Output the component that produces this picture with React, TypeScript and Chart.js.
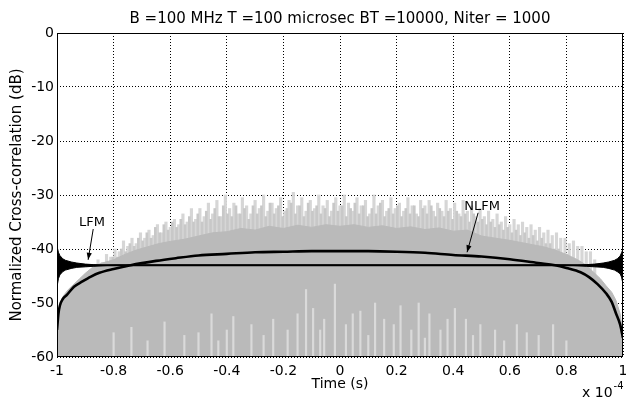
import React, { useEffect, useRef } from "react";
import { Chart, registerables } from "chart.js";

Chart.register(...registerables);

const FONT = "'DejaVu Sans', 'Liberation Sans', sans-serif";

const TITLE = "B =100 MHz T =100 microsec BT =10000, Niter = 1000";
const X_LABEL = "Time (s)";
const Y_LABEL = "Normalized Cross-correlation (dB)";
const X_EXP_BASE = "x 10";
const X_EXP = "-4";
const X_TICKS = [-1, -0.8, -0.6, -0.4, -0.2, 0, 0.2, 0.4, 0.6, 0.8, 1];
const Y_TICKS = [-60, -50, -40, -30, -20, -10, 0];

// NLFM mean cross-correlation curve
const NLFM_X = [-1, -0.995, -0.99, -0.98, -0.965, -0.94, -0.91, -0.88, -0.85, -0.8, -0.74, -0.65, -0.58, -0.5, -0.4, -0.3, -0.2, -0.1, 0, 0.1, 0.2, 0.3, 0.4, 0.5, 0.6, 0.7, 0.76, 0.8, 0.85, 0.88, 0.91, 0.94, 0.96, 0.975, 0.99, 1];
const NLFM_DB = [-55, -52, -50.5, -49.3, -48.5, -47, -46, -45.1, -44.4, -43.7, -43, -42.2, -41.7, -41.2, -40.9, -40.6, -40.5, -40.4, -40.4, -40.4, -40.5, -40.7, -41.1, -41.4, -41.9, -42.6, -43, -43.5, -44.3, -45.2, -46.5, -48.2, -49.8, -51.9, -54, -56.5];

// LFM curve (flat, with ringing envelope at the edges)
const LFM_X = [-1, -0.995, -0.99, -0.98, -0.97, -0.95, -0.93, -0.9, -0.87, -0.84, -0.8, 0, 0.8, 0.84, 0.87, 0.9, 0.93, 0.95, 0.97, 0.98, 0.99, 0.995, 1];
const LFM_DB = [-43, -43, -43, -43, -43, -43, -43, -43, -43, -43, -43, -43, -43, -43, -43, -43, -43, -43, -43, -43, -43, -43, -43];
const LFM_UPPER = [-39.5, -40.6, -41.2, -41.8, -42.1, -42.4, -42.6, -42.8, -42.9, -43, -43, -43, -43, -43, -42.9, -42.8, -42.6, -42.4, -42.1, -41.8, -41.3, -40.7, -40];
const LFM_LOWER = [-47, -45.5, -44.8, -44.2, -43.9, -43.6, -43.4, -43.3, -43.2, -43.1, -43, -43, -43, -43.1, -43.2, -43.3, -43.4, -43.6, -43.9, -44.2, -44.6, -45.2, -46.5];

// Dense part of the gray realizations (upper edge)
const BASE_X = [-1, -0.99, -0.975, -0.96, -0.94, -0.92, -0.9, -0.87, -0.84, -0.8, -0.76, -0.72, -0.68, -0.64, -0.6, -0.55, -0.5, -0.45, -0.4, -0.35, -0.3, -0.25, -0.2, -0.15, -0.1, -0.05, 0, 0.05, 0.1, 0.15, 0.2, 0.25, 0.3, 0.35, 0.4, 0.45, 0.5, 0.55, 0.6, 0.64, 0.68, 0.72, 0.76, 0.8, 0.84, 0.87, 0.9, 0.92, 0.94, 0.96, 0.975, 0.99, 1];
const BASE_DB = [-54, -50, -48.5, -47.5, -46.5, -45.5, -44.5, -43.2, -42.6, -42, -41, -40.2, -39.6, -39, -38.6, -38.2, -37.6, -37, -36.8, -36.2, -36.5, -35.8, -36.2, -35.6, -36, -35.5, -35.8, -35.5, -36, -35.7, -36.2, -35.9, -36.4, -36.1, -36.7, -36.5, -37.6, -38, -38.4, -38.8, -39.2, -39.6, -40.2, -41, -42, -43, -44.5, -45.5, -46.8, -48, -49.5, -52, -56];

// Tallest peaks of the gray realizations (sampled from x = -0.9 every 0.015)
const SPIKE_X0 = -0.9;
const SPIKE_DX = 0.015;
const SPIKE_DB = [
  -45, -44, -43.5, -42, -42.5, -41, -41.5, -40, -40.5, -38.5,
  -39.5, -38, -39, -37, -38, -36.5, -37.5, -35.5, -37, -35,
  -36, -34.5, -35.5, -33.5, -35, -32.5, -34.5, -32.5, -34, -31.5,
  -33.5, -31, -34, -30, -32.5, -31.5, -33.5, -30.5, -32, -33.5,
  -31, -32.5, -30, -33, -31.5, -32.5, -30.5, -33, -31, -29.5,
  -32, -30.5, -33, -31, -32.5, -30, -32, -31, -33, -30.5,
  -32, -30, -31.5, -33, -30.5, -32, -31, -33.5, -30, -32,
  -31, -33, -30.5, -32.5, -31.5, -33, -30.5, -32, -33.5, -31,
  -32, -31, -33, -31.5, -33, -31, -32.5, -31.5, -33.5, -31,
  -33, -32, -34, -32.5, -34, -33, -34.5, -33.5, -35, -34,
  -35.5, -34.5, -35.5, -35, -36, -35.5, -36.5, -36, -37, -36.5,
  -37.5, -37, -38, -38, -39, -38.5, -39.5, -39.5, -40.5, -40.5,
  -42,
];
// Second set of peaks (sampled from x = -0.8925 every 0.015)
const SPIKE2_X0 = -0.8925;
const SPIKE2_DB = [
  -46, -45, -44.5, -43.5, -43, -42.5, -41.5, -41.5, -40, -40.5,
  -39, -39.5, -38, -38.5, -37, -38, -36, -37, -35.5, -36.5,
  -35, -36, -34.5, -35.5, -34, -35, -33.5, -35, -33, -34.5,
  -32.5, -34, -32, -33.5, -34, -32, -33.5, -32.5, -34.5, -32,
  -33.5, -32, -34, -31.5, -33.5, -32, -34, -32.5, -31.5, -33.5,
  -32, -34, -31.5, -33, -32, -33.5, -32.5, -34, -31.5, -33,
  -32, -34, -32.5, -31.5, -33.5, -32, -34, -32.5, -33.5, -31.5,
  -34, -32.5, -33.5, -32, -34, -32.5, -33.5, -32, -34, -32.5,
  -33.5, -32, -34, -32.5, -34, -33, -34.5, -33, -34, -33.5,
  -35, -33.5, -35, -34.5, -35.5, -35, -36, -35.5, -36.5, -36,
  -37, -36.5, -37.5, -37, -38, -37.5, -38.5, -38, -39, -39,
  -40, -40, -41, -41, -42, -42.5, -43, -43.5, -44, -45,
];

// Light gaps at the bottom of the gray realizations
const STREAK_X = [-0.8, -0.737, -0.68, -0.62, -0.55, -0.5, -0.454, -0.43, -0.4, -0.377, -0.313, -0.27, -0.236, -0.185, -0.15, -0.12, -0.095, -0.07, -0.056, -0.018, 0.021, 0.045, 0.072, 0.1, 0.124, 0.156, 0.19, 0.214, 0.252, 0.278, 0.3, 0.316, 0.355, 0.38, 0.406, 0.445, 0.47, 0.496, 0.548, 0.58, 0.625, 0.66, 0.702, 0.753, 0.8];
const STREAK_DB = [-55.5, -54.5, -57, -53.5, -56, -55.5, -52, -57, -55, -52.5, -54, -56, -53, -55, -52, -47.5, -51, -55, -53, -46.5, -54, -52, -51.5, -56, -50, -53, -54, -50.5, -55, -50, -56.5, -52, -55, -53, -51, -53, -56, -54, -55, -57, -54, -55.5, -56, -54, -57];

const Y_MIN = -60;

function pts(xs: number[], ys: number[]) {
  return xs.map((x, i) => ({ x, y: ys[i] }));
}

function arrow(ctx: CanvasRenderingContext2D, x1: number, y1: number, x2: number, y2: number) {
  ctx.beginPath();
  ctx.moveTo(x1, y1);
  ctx.lineTo(x2, y2);
  ctx.stroke();
  const ang = Math.atan2(y2 - y1, x2 - x1);
  const L = 7, W = 2.6;
  ctx.beginPath();
  ctx.moveTo(x2, y2);
  ctx.lineTo(x2 - L * Math.cos(ang) + W * Math.sin(ang), y2 - L * Math.sin(ang) - W * Math.cos(ang));
  ctx.lineTo(x2 - L * Math.cos(ang) - W * Math.sin(ang), y2 - L * Math.sin(ang) + W * Math.cos(ang));
  ctx.closePath();
  ctx.fill();
}

const decor = {
  id: "decor",
  afterDatasetsDraw(chart: any) {
    const { ctx, chartArea: a } = chart;
    ctx.save();
    ctx.strokeStyle = "#000";
    ctx.lineWidth = 1;
    ctx.setLineDash([]);
    ctx.strokeRect(Math.round(a.left) + 0.5, Math.round(a.top) + 0.5, Math.round(a.right - a.left) - 1, Math.round(a.bottom - a.top) - 1);
    ctx.restore();
  },
  afterDraw(chart: any) {
    const { ctx, chartArea: a, scales } = chart;
    const sx = scales.x, sy = scales.y;
    ctx.save();
    ctx.fillStyle = "#000";
    ctx.strokeStyle = "#000";
    // title
    ctx.font = `15px ${FONT}`;
    ctx.textAlign = "center";
    ctx.textBaseline = "alphabetic";
    ctx.fillText(TITLE, (a.left + a.right) / 2, 23);
    // x label
    ctx.font = `14px ${FONT}`;
    ctx.fillText(X_LABEL, (a.left + a.right) / 2, 388);
    // exponent
    ctx.textAlign = "left";
    ctx.font = `14px ${FONT}`;
    ctx.fillText(X_EXP_BASE, 582, 397);
    const w = ctx.measureText(X_EXP_BASE).width;
    ctx.font = `10px ${FONT}`;
    ctx.fillText(X_EXP, 582 + w + 1, 389);
    // y label
    ctx.save();
    ctx.translate(17, (a.top + a.bottom) / 2);
    ctx.rotate(-Math.PI / 2);
    ctx.textAlign = "center";
    ctx.textBaseline = "middle";
    ctx.font = `15px ${FONT}`;
    ctx.fillText(Y_LABEL, 0, 0);
    ctx.restore();
    // annotations
    ctx.font = `13px ${FONT}`;
    ctx.textAlign = "center";
    ctx.textBaseline = "middle";
    ctx.fillText("LFM", sx.getPixelForValue(-0.876), sy.getPixelForValue(-35.1));
    ctx.fillText("NLFM", sx.getPixelForValue(0.502), sy.getPixelForValue(-32.1));
    ctx.lineWidth = 1;
    arrow(ctx, sx.getPixelForValue(-0.872), sy.getPixelForValue(-36.3), sx.getPixelForValue(-0.89), sy.getPixelForValue(-42));
    arrow(ctx, sx.getPixelForValue(0.488), sy.getPixelForValue(-33.3), sx.getPixelForValue(0.449), sy.getPixelForValue(-40.6));
    ctx.restore();
  },
};

export default function App() {
  const ref = useRef<HTMLCanvasElement | null>(null);
  useEffect(() => {
    document.body.style.margin = "0";
    const canvas = ref.current!;
    const spikeData = SPIKE_DB.map((v, i) => ({ x: SPIKE_X0 + i * SPIKE_DX, y: [Y_MIN, v] }));
    const spike2Data = SPIKE2_DB.map((v, i) => ({ x: SPIKE2_X0 + i * SPIKE_DX, y: [Y_MIN, v] }));
    const streakData = STREAK_X.map((x, i) => ({ x, y: [Y_MIN, STREAK_DB[i]] }));
    const chart = new Chart(canvas, {
      type: "line",
      data: {
        datasets: [
          { type: "line", label: "NLFM", data: pts(NLFM_X, NLFM_DB), borderColor: "#000", borderWidth: 2.6, pointRadius: 0, cubicInterpolationMode: "monotone", fill: false, order: 0 } as any,
          { type: "line", label: "LFM", data: pts(LFM_X, LFM_DB), borderColor: "#000", borderWidth: 2, pointRadius: 0, fill: false, order: 1 } as any,
          { type: "line", label: "LFM upper", data: pts(LFM_X, LFM_UPPER), borderColor: "#000", borderWidth: 1, pointRadius: 0, fill: false, order: 2 } as any,
          { type: "line", label: "LFM lower", data: pts(LFM_X, LFM_LOWER), borderColor: "#000", backgroundColor: "#000", borderWidth: 1, pointRadius: 0, fill: "-1", order: 3 } as any,
          { type: "bar", label: "gaps", data: streakData, backgroundColor: "rgb(218,218,218)", borderWidth: 0, barThickness: 1.5, grouped: false, order: 4 } as any,
          { type: "line", label: "dense", data: pts(BASE_X, BASE_DB), borderColor: "rgb(186,186,186)", backgroundColor: "rgb(186,186,186)", borderWidth: 1, pointRadius: 0, fill: "start", order: 5 } as any,
          { type: "bar", label: "peaks2", data: spike2Data, backgroundColor: "rgb(200,200,200)", borderWidth: 0, barThickness: 2, grouped: false, order: 6 } as any,
          { type: "bar", label: "peaks", data: spikeData, backgroundColor: "rgb(214,214,214)", borderWidth: 0, barThickness: 2.5, grouped: false, order: 7 } as any,
        ],
      },
      options: {
        responsive: false,
        animation: false,
        devicePixelRatio: 1,
        layout: { padding: { left: 0, right: 3, top: 33, bottom: 0 } },
        plugins: { legend: { display: false }, tooltip: { enabled: false }, title: { display: false } },
        elements: { point: { radius: 0 } },
        scales: {
          x: {
            type: "linear",
            min: -1,
            max: 1,
            offset: false,
            afterBuildTicks: (s: any) => { s.ticks = X_TICKS.map((v) => ({ value: v })); },
            afterFit: (s: any) => { s.height = 41; s.paddingLeft = 0; s.paddingRight = 0; },
            ticks: { padding: 6, color: "#000", font: { family: FONT, size: 14 }, maxRotation: 0, autoSkip: false, callback: (v: any) => String(v) },
            grid: { color: "#000", lineWidth: 1, drawTicks: false, offset: false },
            border: { display: false, dash: [1, 2] },
          },
          y: {
            type: "linear",
            min: -60,
            max: 0,
            afterBuildTicks: (s: any) => { s.ticks = Y_TICKS.map((v) => ({ value: v })); },
            afterFit: (s: any) => { s.width = 57; },
            ticks: { padding: 3, color: "#000", font: { family: FONT, size: 14 }, callback: (v: any) => String(v) },
            grid: { color: "#000", lineWidth: 1, drawTicks: false },
            border: { display: false, dash: [1, 2] },
          },
        },
      } as any,
      plugins: [decor],
    });
    return () => chart.destroy();
  }, []);
  return (
    <div style={{ width: 626, height: 398, background: "#fff" }}>
      <canvas ref={ref} width={626} height={398} style={{ display: "block" }} />
    </div>
  );
}
